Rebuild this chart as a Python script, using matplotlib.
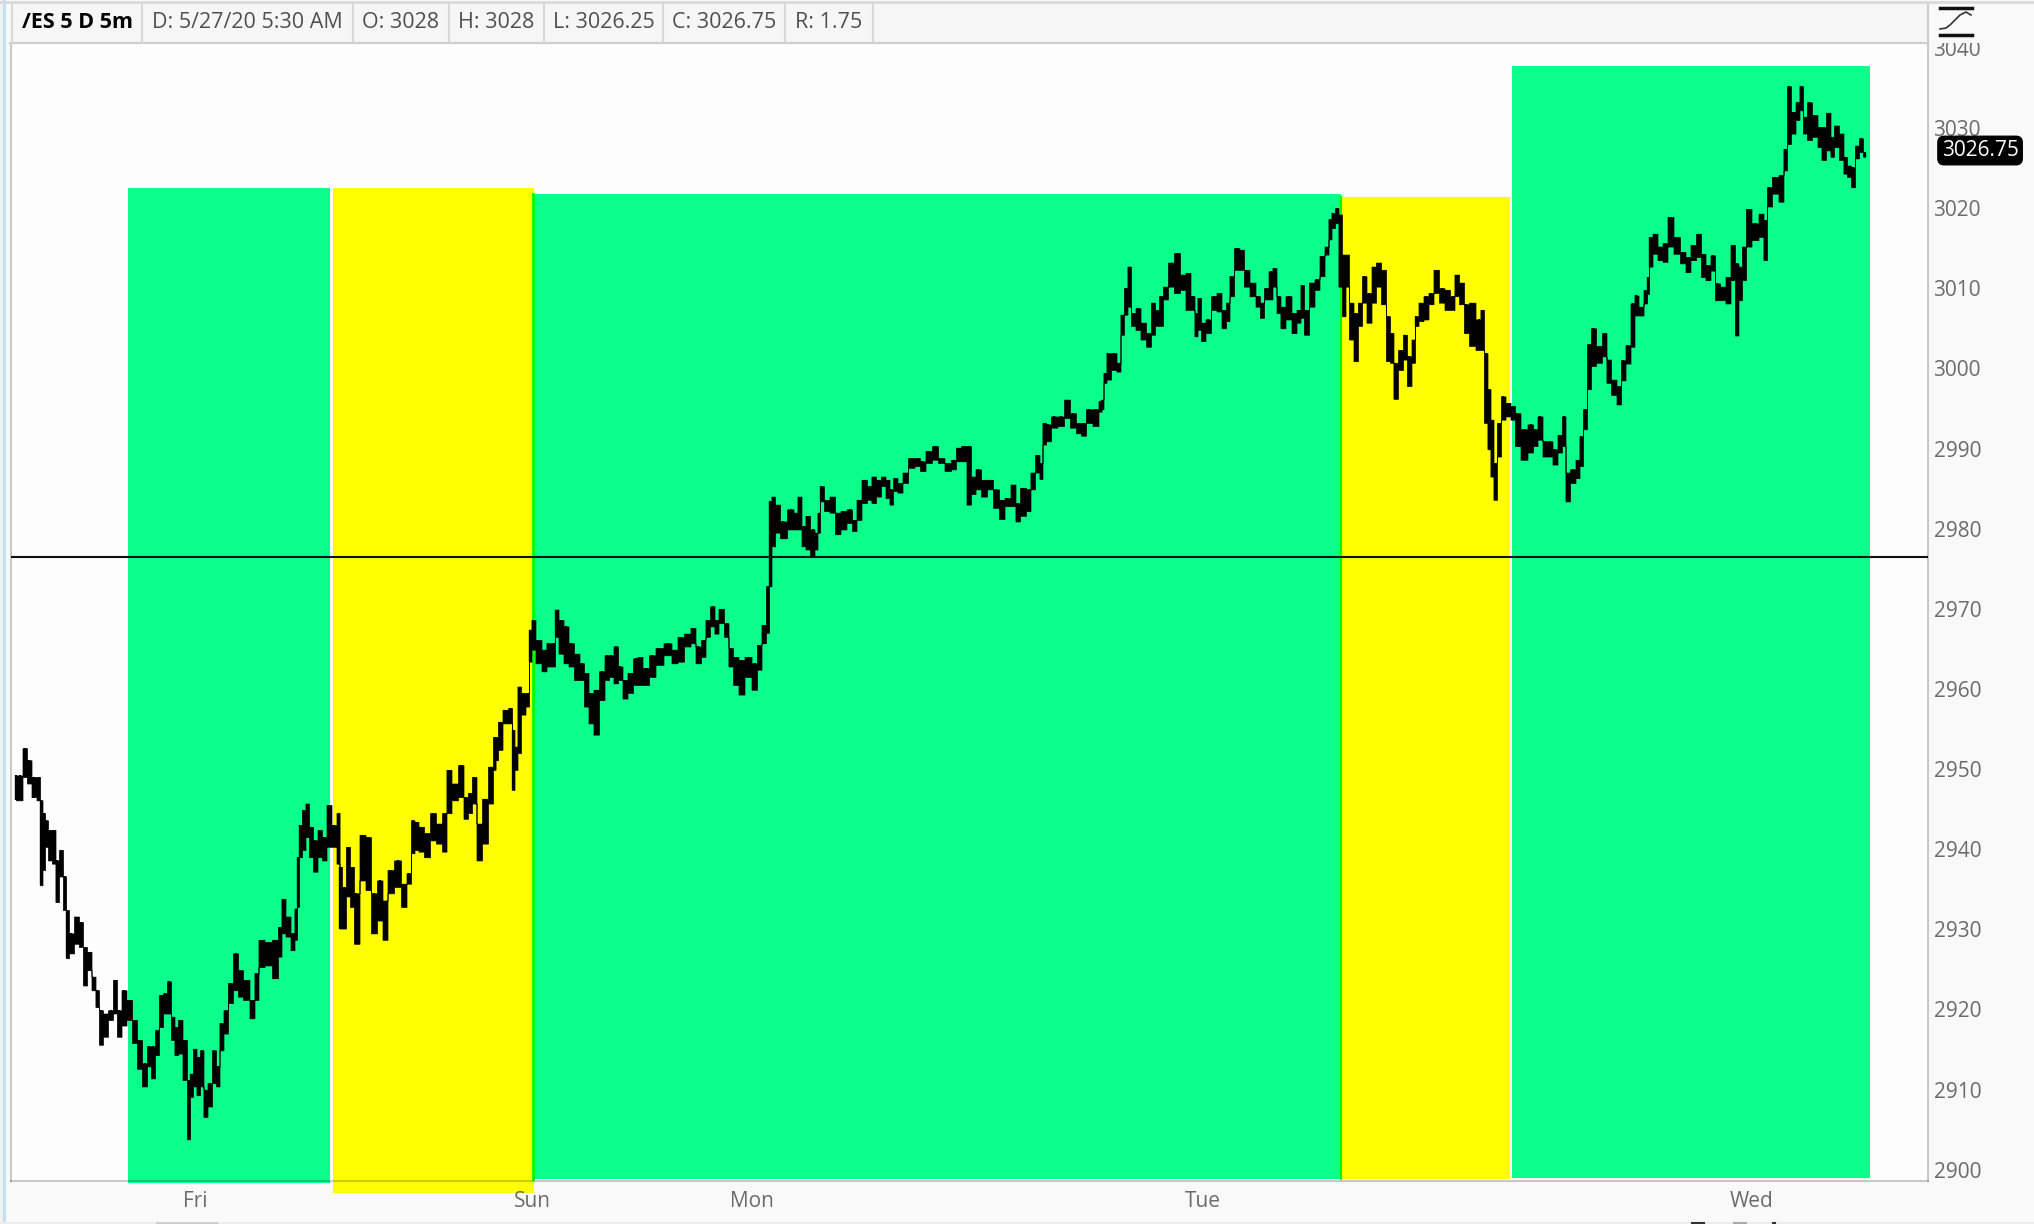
import matplotlib
matplotlib.use("Agg")
import matplotlib.pyplot as plt
from matplotlib.lines import Line2D
from matplotlib.patches import Rectangle

W, H = 2034, 1224
FONT = "Open Sans"

# chart slot, low, high of the 5 minute bars
slots = [16,20,25,29,34,39,41,44,46,50,54,57,61,65,67,71,77,81,85,89,94,97,101,105,111,115,119,124,129,135,139,145,149,153,157,161,165,169,173,176,180,185,189,191,195,198,202,205,210,214,218,221,226,230,236,240,246,253,256,261,268,276,280,283,288,293,296,298,300,304,307,311,315,320,324,329,334,339,340,344,348,352,356,363,368,374,380,385,390,398,404,409,413,416,421,427,433,439,445,448,455,461,466,470,474,479,485,491,495,
         496,500,505,511,513,516,519,523,528,530,533,538,545,548,554,556,561,566,571,577,582,586,591,596,602,607,611,616,620,625,630,636,639,646,652,659,668,675,680,688,693,698,704,707,713,716,721,727,730,736,741,748,755,759,764,
         768,770,773,777,783,791,796,799,804,807,813,816,819,821,827,832,838,843,850,854,859,864,870,873,879,883,888,891,895,900,905,911,918,922,929,935,941,948,954,958,964,969,973,978,984,990,996,1002,1007,1014,1017,1023,1029,1032,1038,1041,1044,1048,1054,1061,1067,1073,1079,1083,1089,1096,1101,
         1102,1105,1108,1114,1119,1122,1126,1129,1133,1138,1143,1149,1153,1157,1161,1165,1171,1177,1183,1188,1193,1196,1199,1203,1208,1214,1219,1224,1228,1231,1237,1242,1246,1253,1258,1262,1266,1271,1274,1279,1282,1289,1294,1299,1302,1306,1312,1317,1322,1327,1330,1333,1337,1340,1344,1347,1351,1356,1360,1364,1369,1374,1378,1384,1388,1392,1395,1401,1405,1409,1414,1416,1421,1426,1431,1436,1442,1447,1453,1456,1462,1466,1472,1479,1482,1486,1489,1492,1495,1499,1503,1508,1513,1517,1524,1531,1535,1540,1545,1550,1555,1560,1564,1567,1573,1578,1581,1585,1589,1593,1599,1605,1608,1614,1619,
         1623,1628,1633,1636,1641,1646,1648,1650,1655,1660,1665,1670,1677,1683,1688,1693,1699,1703,1708,1713,1717,1723,1728,1733,1737,1740,1744,1748,1755,1762,1765,1769,1775,1782,1785,1789,1793,1798,1801,1805,1809,1815,1820,1823,1829,1832,1836,1842,1845,1849,1853,1857,1861,1865]

highs = [2949.2,2949.2,2952.6,2951.1,2949,2949,2946.1,2944.5,2943.6,2942.4,2942.4,2938.6,2939.9,2936.6,2932.4,2929.5,2931.6,2930.9,2927.8,2927.2,2924.1,2922.4,2919.9,2919.5,2919.9,2923.7,2919.9,2922.4,2921.2,2918.7,2916.2,2913.3,2915.4,2915.4,2917.4,2921.8,2922,2923.5,2919.1,2917.8,2918.7,2916.2,2911.2,2912,2915.1,2914.1,2914.9,2910,2910.8,2914.9,2912.9,2918.3,2919.9,2923.3,2927,2924.9,2923.7,2921.2,2924.5,2928.7,2928.4,2928.7,2930.3,2933.8,2931.6,2929.5,2932.6,2939,2943,2944.9,2945.7,2942.8,2941.1,2942.4,2941.5,2945.5,2943,2944.5,2937.8,2935.3,2940.3,2937.8,2934.5,2941.8,2941.5,2934.5,2936.1,2933.6,2937.4,2938.6,2935.7,2937,2943.6,2943.4,2942.8,2942,2944.5,2943.2,2944.5,2949.9,2948.2,2950.5,2946.5,2947,2949,2943.2,2946.3,2950.3,2954,
         2954,2955.9,2957.4,2957.6,2954.9,2952.8,2960.3,2959.5,2959.5,2967.4,2968.6,2966.1,2964.9,2965.7,2965.7,2969.9,2968.6,2967.8,2965.7,2964.4,2963.2,2962,2959.5,2959.9,2962.2,2964.2,2964.2,2965.3,2962.8,2961.1,2962,2963.8,2964,2962.6,2964.2,2965.1,2965.7,2964.9,2966.5,2966.9,2967.6,2965.3,2966.1,2968.6,2970.3,2968.6,2970,2968.2,2965.1,2964,2963.6,2964,2963.2,2965.5,2968,
         2972.8,2983.4,2984,2983,2980.9,2982.4,2982,2984,2980.3,2981.6,2979.9,2979.5,2982,2985.3,2983.6,2984,2982,2982.2,2982.4,2981.1,2983.6,2986.1,2985.3,2986.5,2986.1,2986.5,2986.1,2984.9,2986.3,2985.7,2987,2988.8,2988.8,2988.4,2989.7,2990.3,2988.8,2988.2,2988.6,2990.1,2990.3,2990.3,2986.5,2987.4,2986.1,2986.1,2984.9,2983.6,2983.8,2985.5,2983.2,2985.1,2984.9,2987,2989.2,2988.2,2993.2,2993,2994,2994,2996.1,2994.4,2993.2,2993.2,2994.9,2994.9,2995.9,
         2996.1,2999.4,3001.9,3001.9,3000.7,3006.7,3010,3012.7,3006.9,3007.5,3005.7,3004.4,3008.2,3007.3,3009,3010.2,3013.2,3014.4,3011.7,3011.9,3009,3006.9,3008.8,3005.7,3006.1,3009,3009.4,3007.3,3008.2,3011.5,3015,3014.8,3012.3,3010.7,3009,3008.2,3010,3012.1,3012.5,3009,3007.7,3009,3006.9,3007.3,3010.4,3007.3,3010.7,3011.1,3014,3015.2,3018.6,3019.4,3020,3019.2,3014.2,3014.2,3008.2,3006.9,3008.2,3011.5,3009.4,3012.7,3013.2,3012.3,3006.5,3004.4,3000.7,3002.3,3004.2,3001.5,3003.6,3006.5,3008.2,3009,3009.4,3012.3,3010,3009.8,3009,3011.7,3010.7,3008,3008.2,3006.1,3007.3,3001.9,2997.4,2993.6,2988.2,2993.2,2996.5,2995.7,2995.3,2994.4,2992.4,2993,2992.4,2994,2990.9,2990.9,2989.9,2991.7,2994,2987,2987.4,2988.6,2991.5,2994.9,3003,3005,3002.8,3004.4,3001.1,2998.6,2997.8,
         3001,3002.9,3008.1,3009.1,3007.7,3009.8,3011.4,3016.4,3016.8,3015.2,3015.6,3018.9,3016.4,3014.5,3013.9,3015.4,3016.8,3014.3,3012.9,3014.1,3010.6,3010.2,3011.4,3015.4,3013.1,3012.7,3015.2,3019.9,3018.1,3019.3,3018.5,3022.6,3023.9,3024.1,3027.4,3035.2,3032,3033.2,3035.2,3031.4,3033.2,3031.6,3030.1,3030.1,3031.9,3028.9,3030.3,3029.3,3026.4,3025.3,3025.1,3027.8,3028.7,3027]

lows = [2946.1,2946.1,2949,2948.2,2946.5,2946.1,2935.5,2937.4,2940.3,2938.6,2938.2,2933.4,2936.6,2932.4,2926.4,2927,2928.2,2927.8,2923,2924.9,2922.4,2920.3,2915.6,2916.6,2918.7,2919.5,2916.6,2918,2918.7,2915.8,2912.6,2910.4,2912.9,2911.4,2914.3,2917.8,2919.5,2919.5,2916.2,2914.3,2914.5,2911.2,2903.8,2909.1,2910.4,2909.3,2910.4,2906.6,2907.9,2910.8,2910.4,2914.9,2917,2920.8,2922.4,2921.6,2921.2,2918.9,2921.2,2925.3,2925.5,2923.9,2926.6,2929.5,2929.1,2927.4,2928.7,2932.8,2939,2939.9,2941.5,2939,2937.2,2939,2938.6,2940.3,2940.3,2938.2,2930.1,2930.1,2934.1,2932.8,2928.2,2936.1,2934.9,2929.5,2931.1,2928.7,2934.5,2935.3,2932.8,2935.7,2939.5,2939.9,2939.7,2939,2941.1,2940.7,2939.7,2944.5,2946.1,2946.5,2943.8,2944.5,2945.7,2938.6,2940.7,2945.7,2949.9,
        2951.1,2952.4,2955.7,2955.7,2947.4,2949.9,2952,2956.8,2957.8,2963.4,2964.9,2963.2,2962.2,2962.8,2962.8,2966.5,2964.4,2963.2,2962.8,2961.1,2961.1,2957.8,2955.7,2954.3,2958.6,2961.1,2961.5,2960.7,2961.1,2958.8,2959.5,2960.5,2960.5,2960.5,2961.5,2963,2964.2,2963.2,2963.4,2965.3,2965.7,2963.2,2964,2966.5,2967.8,2966.9,2968.2,2966.5,2962.8,2960.5,2959.3,2961.5,2959.9,2962.4,2965.7,
        2967,2972.8,2977.8,2979.5,2978.8,2979.9,2979.9,2979.9,2977.8,2977.4,2976.6,2977.4,2979.5,2983.4,2982.2,2982,2979.3,2979.9,2980.7,2979.7,2981.1,2983.2,2983.6,2983.2,2984,2985.3,2983.8,2983,2984.7,2984.5,2985.7,2987.6,2987.8,2987.2,2988.2,2988.6,2988.2,2987.2,2987.4,2988.4,2988.4,2983,2984.3,2984.9,2984,2984.9,2982.6,2981.2,2982.8,2982.8,2980.9,2981.6,2982.2,2984.9,2987,2986.2,2990.5,2990.9,2992.6,2992.8,2993.8,2992.6,2991.9,2991.6,2993.2,2992.8,2994.6,
        2994.9,2998.2,2998.6,2999.8,2999.6,3004.2,3006.7,3007.7,3005.3,3004.8,3003.6,3002.7,3004.2,3005.3,3005.3,3008.6,3010.2,3009.4,3009.8,3007.3,3007.3,3004,3004.8,3003.4,3004.4,3007.3,3007.1,3005,3005.9,3009,3012.3,3012.3,3010.2,3009,3007.7,3006.3,3008.6,3008.6,3010.2,3006.9,3005,3006.1,3004.4,3005.7,3006.3,3004.2,3007.7,3009.8,3011.5,3014.2,3016.1,3017.5,3018.1,3010.2,3006.5,3010.2,3003.6,3000.9,3005.3,3008.2,3005.7,3008.2,3010.2,3008,3000.9,3000.7,2996.2,2999.8,3001.1,2997.8,3000.7,3005.3,3005.9,3006.1,3008,3009.4,3008.2,3007.3,3007.3,3009,3008,3004.4,3002.8,3002.3,3002.3,2993.2,2989.9,2986.5,2983.6,2989,2993.6,2994,2993.6,2990.3,2988.6,2989.5,2990.3,2991.1,2989,2989,2988,2989.5,2990.3,2983.4,2985.7,2986.3,2987.8,2992.4,2997.4,3000.3,3000.7,3001.5,2998.2,2996.7,2995.5,
        2998.5,3000.6,3002.7,3006.6,3006.6,3008.1,3009.3,3012.7,3014.3,3013.5,3013.3,3015.2,3014.3,3013.1,3012,3013.5,3013.9,3011.4,3011,3012.2,3008.5,3008.5,3008.1,3011,3004.1,3008.5,3011,3015.2,3016,3016.4,3013.5,3020.2,3021.8,3020.8,3024.7,3028,3029.3,3031,3032.2,3029.3,3028.5,3028.9,3027.6,3026,3027.2,3026.4,3027.6,3026,3024.3,3023.9,3022.6,3026.2,3027,3026.4]

# shaded sessions: start slot, end slot, top price, bottom price
green_starts = [128, 531, 1512]
green_ends = [330, 1341, 1870]
green_tops = [3022.5, 3021.8, 3037.7]
green_bottoms = [2898.4, 2898.9, 2899.0]
yellow_starts = [333, 1341]
yellow_ends = [534, 1510]
yellow_tops = [3022.5, 3021.4]
yellow_bottoms = [2897.1, 2898.9]

price_ticks = list(range(2900, 3041, 10))
day_slots = [195, 532, 752, 1203, 1752]
day_labels = ["Fri", "Sun", "Mon", "Tue", "Wed"]
level = 2976.5
last_price = 3026.75

# toolbar cells
cell_edges = [12, 142, 353, 449, 544, 663, 785, 873]
cell_texts = ["/ES 5 D 5m", "D: 5/27/20 5:30 AM", "O: 3028", "H: 3028", "L: 3026.25", "C: 3026.75", "R: 1.75"]

fig = plt.figure(figsize=(W / 100, H / 100), dpi=100, facecolor="#F9F9F9")
ax = fig.add_axes([11 / W, 1 - 1181 / H, 1917 / W, 1138 / H], facecolor="#FDFDFD")
ax.set_xlim(11, 1928)
ax.set_ylim(2898.6, 3040.6)


def px(x, y):
    return x / W, 1 - y / H


for s, e, t, b in zip(green_starts, green_ends, green_tops, green_bottoms):
    ax.bar(s, t - b, e - s, bottom=b, align="edge", color="#0BFF8B", zorder=1, clip_on=False)
for s, e, t, b in zip(yellow_starts, yellow_ends, yellow_tops, yellow_bottoms):
    ax.bar(s, t - b, e - s, bottom=b, align="edge", color="#FFFF00", zorder=1.1, clip_on=False)
ax.axvline(532.5, ymin=0.002, ymax=(3021.8 - 2898.6) / 142, color="#00FF00", lw=2, zorder=1.2)
ax.axvline(1341, ymin=0.002, ymax=(3021.4 - 2898.6) / 142, color="#00FF00", lw=1.5, zorder=1.2)

ax.fill_between(slots, lows, highs, step="mid", color="black", lw=0.5, zorder=3)
ax.vlines(slots, lows, highs, color="black", lw=1.7, zorder=3)
ax.axhline(level, color="#101010", lw=1.5, zorder=4)

ax.yaxis.tick_right()
ax.set_yticks(price_ticks)
ax.set_yticklabels([str(p) for p in price_ticks], fontsize=15, family=FONT, color="#6B6B6B")
ax.set_xticks(day_slots)
ax.set_xticklabels(day_labels, fontsize=15, family=FONT, color="#6B6B6B")
ax.tick_params(axis="both", length=0)
ax.tick_params(axis="y", pad=4)
ax.tick_params(axis="x", pad=7)
for name, sp in ax.spines.items():
    sp.set_color((0, 0, 0, 0.2))
    sp.set_linewidth(1.5)

ax.annotate(f"{last_price:.2f}", (1.0, last_price), xycoords=("axes fraction", "data"),
            xytext=(37.5, 2.5), textcoords="offset points", ha="center", va="center",
            fontsize=15, family=FONT, color="white", annotation_clip=False,
            bbox=dict(boxstyle="round,pad=0.18,rounding_size=0.3", fc="black", ec="black"))

# toolbar across the top hides the head of the 3040 label
fig.add_artist(Rectangle((0, 1 - 43 / H), 1, 43 / H, transform=fig.transFigure, fc="#F9F9F9", ec="none", zorder=5))
fig.add_artist(Rectangle((12 / W, 1 - 42 / H), 1916 / W, 38 / H, transform=fig.transFigure, fc="#F6F6F6", ec="none", zorder=5))
fig.add_artist(Line2D([10 / W, 1928 / W], [1 - 43 / H] * 2, color="#CDCDCD", lw=1.5, zorder=6))
fig.add_artist(Line2D([1928 / W, 1928 / W], [1 - 43 / H, 1 - 4 / H], color="#CDCDCD", lw=1.5, zorder=6))
fig.add_artist(Line2D([0, 1], [1 - 2 / H] * 2, color="#DADADA", lw=2, zorder=6))
for e in cell_edges:
    fig.add_artist(Line2D([e / W, e / W], [1 - 42 / H, 1 - 4 / H], color="#D8D8D8", lw=1.5, zorder=6))
for i, label in enumerate(cell_texts):
    cx = (cell_edges[i] + cell_edges[i + 1]) / 2
    fig.text(cx / W, 1 - 23 / H, label, ha="center", va="center", fontsize=15.5, family=FONT,
             fontweight="bold" if i == 0 else "normal", color="black" if i == 0 else "#505050", zorder=7)

# study icon in the corner
for yy in (8, 35):
    x0, y0 = px(1940, yy)
    x1, y1 = px(1972, yy)
    fig.add_artist(Line2D([x0, x1], [y0, y1], color="#111111", lw=2.5, zorder=7))
icon = [px(a, b) for a, b in [(1940, 29), (1946, 28), (1950, 25), (1955, 20), (1960, 15), (1966, 12), (1971, 15)]]
fig.add_artist(Line2D([p[0] for p in icon], [p[1] for p in icon], color="#333333", lw=1.2, zorder=7))

# window edges and the scroll strip along the bottom
fig.add_artist(Rectangle((0, 0), 3 / W, 1, transform=fig.transFigure, fc="#F2F2F2", ec="none", zorder=5))
fig.add_artist(Rectangle((3 / W, 0), 3 / W, 1, transform=fig.transFigure, fc="#BFE0F5", ec="none", zorder=5))
fig.add_artist(Rectangle((0, 0), 1, 2.5 / H, transform=fig.transFigure, fc="#EDEDED", ec="none", zorder=5))
fig.add_artist(Rectangle((156 / W, 0), 62 / W, 2.5 / H, transform=fig.transFigure, fc="#CFCFCF", ec="none", zorder=6))
fig.add_artist(Line2D([1692 / W, 1704 / W], [1.5 / H] * 2, color="#333333", lw=1.5, zorder=6))
fig.add_artist(Line2D([1734 / W, 1746 / W], [1.5 / H] * 2, color="#AAAAAA", lw=1.5, zorder=6))
fig.add_artist(Line2D([1773 / W, 1775 / W], [1.5 / H] * 2, color="#333333", lw=1.5, zorder=6))

fig.savefig("out.png", dpi=100, facecolor=fig.get_facecolor())
